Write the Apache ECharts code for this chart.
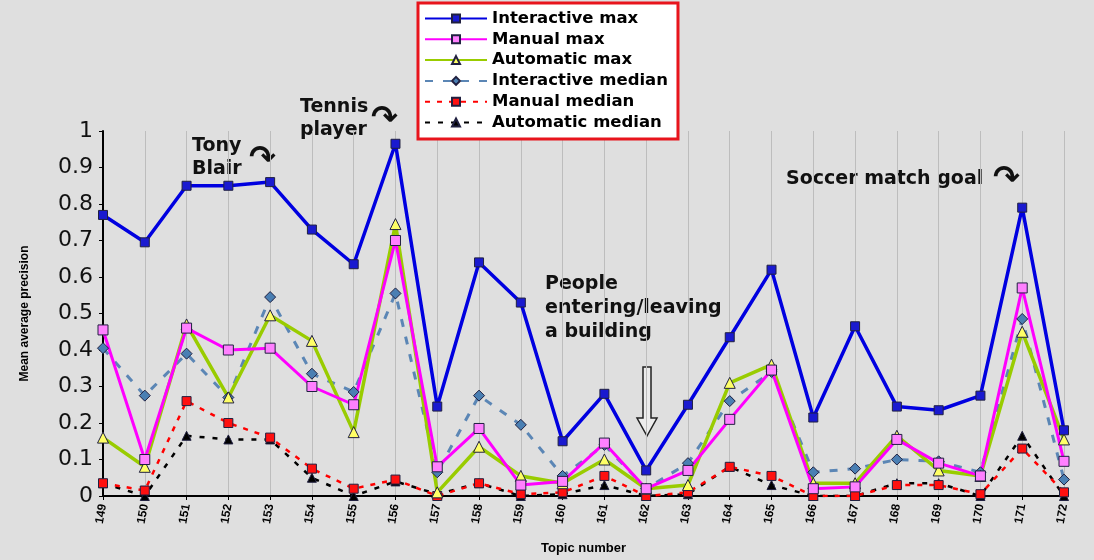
<!DOCTYPE html>
<html>
<head>
<meta charset="utf-8">
<script src="https://cdn.jsdelivr.net/npm/echarts@6/dist/echarts.min.js"></script>
<style>
  html, body { margin: 0; padding: 0; background: #dfdfdf; }
  #chart { width: 1094px; height: 560px; }
</style>
</head>
<body>
<div id="chart"></div>
<script>
// topics on x axis
var topics = ['149','150','151','152','153','154','155','156','157','158','159','160',
              '161','162','163','164','165','166','167','168','169','170','171','172']

var interactiveMax = [0.77,0.695,0.85,0.85,0.86,0.73,0.635,0.965,0.245,0.64,0.53,0.15,
                      0.28,0.07,0.25,0.435,0.62,0.215,0.465,0.245,0.235,0.275,0.79,0.18]
var manualMax = [0.455,0.10,0.46,0.40,0.405,0.30,0.25,0.70,0.08,0.185,0.03,0.04,
                 0.145,0.02,0.07,0.21,0.345,0.02,0.025,0.155,0.09,0.055,0.57,0.095]
var automaticMax = [0.16,0.08,0.47,0.27,0.495,0.425,0.175,0.745,0.01,0.135,0.055,0.035,
                    0.10,0.02,0.03,0.31,0.36,0.035,0.035,0.165,0.07,0.055,0.45,0.155]
var interactiveMedian = [0.405,0.275,0.39,0.27,0.545,0.335,0.285,0.555,0.065,0.275,0.195,0.055,
                         0.14,0.02,0.09,0.26,0.34,0.065,0.075,0.10,0.095,0.065,0.485,0.045]
var manualMedian = [0.035,0.015,0.26,0.20,0.16,0.075,0.02,0.045,0.0,0.035,0.005,0.01,
                    0.055,0.0,0.01,0.08,0.055,0.0,0.0,0.03,0.03,0.005,0.13,0.01]
var automaticMedian = [0.035,0.0,0.165,0.155,0.155,0.05,0.0,0.04,0.005,0.035,0.0,0.005,
                       0.03,0.0,0.005,0.08,0.03,0.0,0.0,0.035,0.035,0.0,0.165,0.0]

var yTicks = ['0','0.1','0.2','0.3','0.4','0.5','0.6','0.7','0.8','0.9','1']

function mk(name, data, color, width, dash, symbol, size, fill) {
  return {
    name: name,
    type: 'line',
    data: data,
    symbol: symbol,
    symbolSize: size,
    showAllSymbol: true,
    lineStyle: { color: color, width: width, type: dash },
    itemStyle: { color: fill, borderColor: '#202040', borderWidth: 1 },
    emphasis: { disabled: true }
  }
}

var chart = echarts.init(document.getElementById('chart'))
chart.setOption({
  backgroundColor: '#dfdfdf',
  animation: false,
  textStyle: { fontFamily: 'DejaVu Sans' },
  grid: { left: 103, right: 30, top: 131, bottom: 62 },
  legend: {
    orient: 'vertical',
    left: 418,
    top: 3,
    width: 259,
    backgroundColor: '#ffffff',
    borderColor: '#e8141c',
    borderWidth: 3,
    padding: [7, 10, 8, 6],
    itemGap: 3.8,
    itemWidth: 62,
    itemHeight: 10,
    textStyle: { fontFamily: 'DejaVu Sans', fontWeight: 'bold', fontSize: 16.5, color: '#000' },
    data: ['Interactive max','Manual max','Automatic max','Interactive median','Manual median','Automatic median']
  },
  xAxis: {
    type: 'category',
    data: topics,
    boundaryGap: false,
    name: 'Topic number',
    nameLocation: 'middle',
    nameGap: 46,
    nameTextStyle: { fontFamily: 'Liberation Sans', fontWeight: 'bold', fontSize: 13, color: '#000' },
    axisLine: { lineStyle: { color: '#000', width: 2 } },
    axisTick: { show: true, length: 4, lineStyle: { color: '#000' } },
    axisLabel: { rotate: 80, fontFamily: 'Liberation Sans', fontWeight: 'bold', fontSize: 12, color: '#000', margin: 8 },
    splitLine: { show: true, lineStyle: { color: '#bdbdbd', width: 1 } }
  },
  yAxis: {
    type: 'value',
    min: 0,
    max: 1,
    interval: 0.1,
    name: 'Mean average precision',
    nameLocation: 'middle',
    nameGap: 72,
    nameTextStyle: { fontFamily: 'Liberation Sans', fontWeight: 'bold', fontSize: 12, color: '#000' },
    axisLine: { show: true, lineStyle: { color: '#000', width: 2 } },
    axisTick: { show: true, length: 4, lineStyle: { color: '#000' } },
    axisLabel: {
      fontSize: 22, color: '#111', margin: 10,
      formatter: function (v) { return yTicks[Math.round(v * 10)] }
    },
    splitLine: { show: false }
  },
  series: [
    mk('Automatic median', automaticMedian, '#000000', 2.5, [5, 8], 'triangle', 9, '#000000'),
    mk('Manual median', manualMedian, '#ff0000', 2.5, [5, 7], 'rect', 9, '#ff1010'),
    mk('Interactive median', interactiveMedian, '#5b86b5', 3, [8, 10], 'diamond', 11, '#4a7fb3'),
    mk('Automatic max', automaticMax, '#99cc00', 3.5, 'solid', 'triangle', 11, '#ffff66'),
    mk('Manual max', manualMax, '#ff00ff', 3, 'solid', 'rect', 10, '#ff80ff'),
    mk('Interactive max', interactiveMax, '#0000e0', 3.5, 'solid', 'rect', 9, '#1a1ad0')
  ],
  graphic: [
    { type: 'text', left: 192, top: 135, style: { text: 'Tony\nBlair', font: 'bold 19px "DejaVu Sans"', fill: '#111', lineHeight: 23 } },
    { type: 'text', left: 249, top: 144, style: { text: '↷', font: 'bold 32px "DejaVu Sans"', fill: '#111' } },
    { type: 'text', left: 300, top: 96, style: { text: 'Tennis\nplayer', font: 'bold 19px "DejaVu Sans"', fill: '#111', lineHeight: 23 } },
    { type: 'text', left: 371, top: 104, style: { text: '↷', font: 'bold 32px "DejaVu Sans"', fill: '#111' } },
    { type: 'text', left: 545, top: 272, style: { text: 'People\nentering/leaving\na building', font: 'bold 19px "DejaVu Sans"', fill: '#111', lineHeight: 24 } },
    { type: 'text', left: 786, top: 170, style: { text: 'Soccer match goal', font: 'bold 19px "DejaVu Sans"', fill: '#111' } },
    { type: 'text', left: 993, top: 164, style: { text: '↷', font: 'bold 32px "DejaVu Sans"', fill: '#111' } },
    {
      type: 'polygon',
      shape: { points: [[643, 367], [651, 367], [651, 418], [657, 418], [647, 436], [637, 418], [643, 418]] },
      style: { fill: '#ececec', stroke: '#222', lineWidth: 1.5 }
    }
  ]
})
</script>
</body>
</html>
